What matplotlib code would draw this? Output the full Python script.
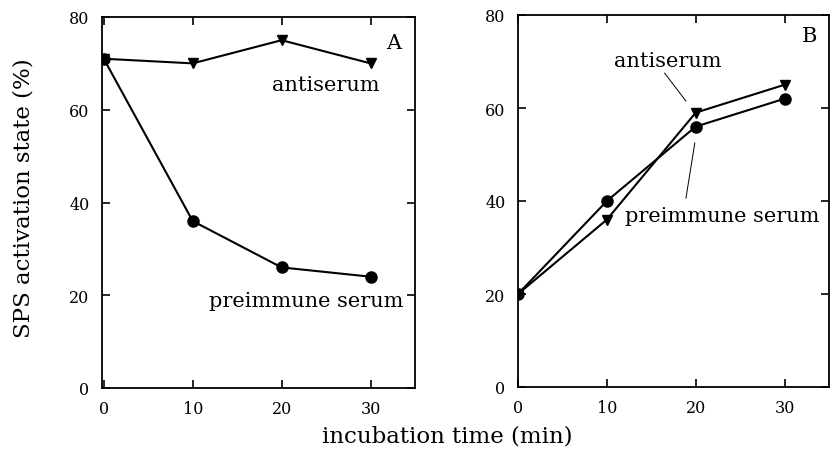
import matplotlib
matplotlib.use('Agg')
import matplotlib.pyplot as plt

plt.rcParams['font.family'] = ['DejaVu Serif']

fs = 15

time = [0, 10, 20, 30]

# panel A
anti_A = [71, 70, 75, 70]
pre_A = [71, 36, 26, 24]

# panel B
anti_B = [20, 36, 59, 65]
pre_B = [20, 40, 56, 62]

fig = plt.figure(figsize=(8.37, 4.52), dpi=100)
ax1 = fig.add_axes([102/837, 1-389/452, 313/837, 371/452])
ax2 = fig.add_axes([518/837, 1-388/452, 311/837, 372/452])

for ax, anti, pre in [(ax1, anti_A, pre_A), (ax2, anti_B, pre_B)]:
    ax.plot(time, anti, '-', color='k', lw=1.5, marker='v', ms=7, zorder=3)
    ax.plot(time, pre, '-', color='k', lw=1.5, marker='o', ms=8, zorder=3)
    ax.set_ylim(0, 80)
    ax.set_yticks([0, 20, 40, 60, 80])
    ax.set_xticks([0, 10, 20, 30])
    ax.tick_params(direction='in', top=True, right=True, labelsize=11.5,
                   length=6, width=1.2, pad=9)
    for s in ax.spines.values():
        s.set_linewidth(1.3)

ax1.set_xlim(-0.2, 35)
ax2.set_xlim(0, 35)

ax1.text(32.6, 74.6, 'A', size=fs, ha='center', va='center')
ax1.text(25, 65.5, 'antiserum', size=fs, ha='center', va='center')
ax1.text(22.8, 18.8, 'preimmune serum', size=fs, ha='center', va='center')

ax2.text(32.8, 75.5, 'B', size=fs, ha='center', va='center')
ax2.text(16.9, 70.3, 'antiserum', size=fs, ha='center', va='center')
ax2.text(23, 36.8, 'preimmune serum', size=fs, ha='center', va='center')
ax2.plot([16.5, 18.9], [67.5, 61.5], color='k', lw=0.7)
ax2.plot([18.9, 19.9], [40.6, 52.5], color='k', lw=0.7)

fig.text(24/837, 1-198/452, 'SPS activation state (%)', rotation=90,
         size=16.5, ha='center', va='center')
fig.text(447/837, 1-437/452, 'incubation time (min)', size=16.5,
         ha='center', va='center')

plt.savefig('out.png', dpi=100)
